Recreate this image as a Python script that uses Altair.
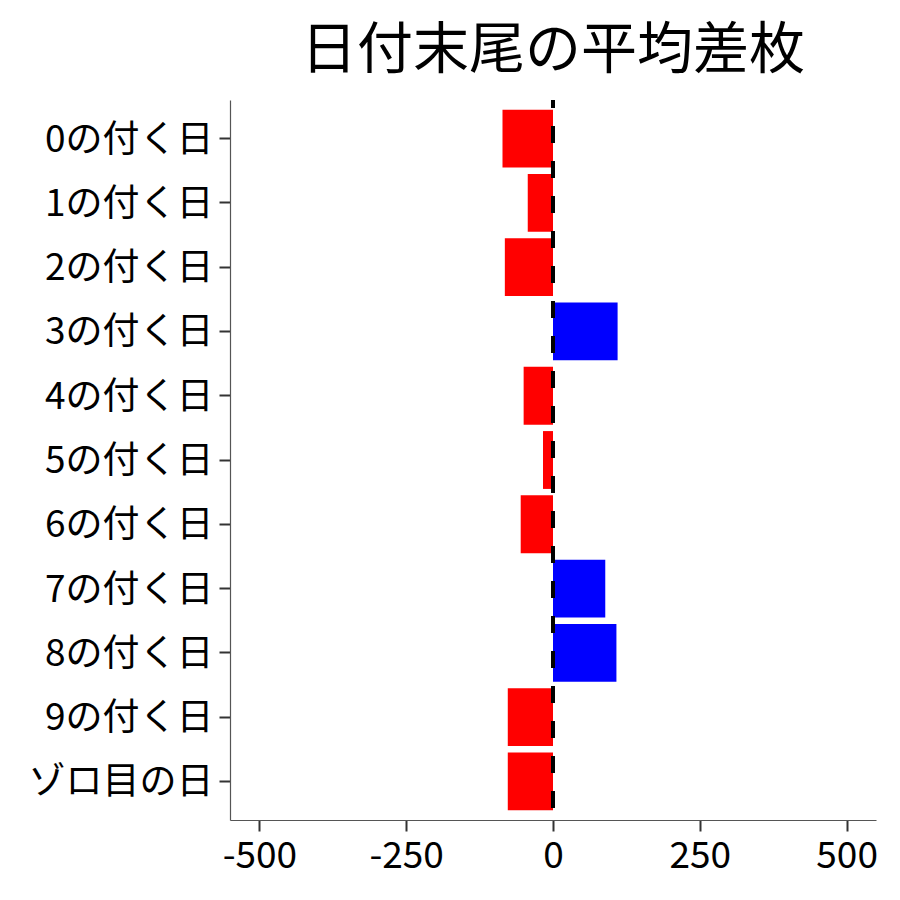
import altair as alt
import pandas as pd

categories = ["0の付く日", "1の付く日", "2の付く日", "3の付く日", "4の付く日",
              "5の付く日", "6の付く日", "7の付く日", "8の付く日", "9の付く日", "ゾロ目の日"]
values = [-86, -43, -82, 110, -50, -17, -55, 89, 108, -77, -77]
x_ticks = [-500, -250, 0, 250, 500]

df = pd.DataFrame({"cat": categories, "val": values})
df["sign"] = ["neg" if v < 0 else "pos" for v in values]

FONT = "Noto Sans CJK JP"
H = 720

bars = alt.Chart(df).mark_bar().encode(
    y=alt.Y("cat:N", sort=categories, title=None,
            scale=alt.Scale(paddingInner=0.1, paddingOuter=0.15),
            axis=alt.Axis(labelFontSize=37, labelColor="black", labelFont=FONT, labelLimit=400,
                          tickSize=11, tickColor="#333333", tickWidth=2, labelOffset=2,
                          labelPadding=6, domainColor="#555555", domainWidth=1.2)),
    x=alt.X("val:Q", title=None,
            scale=alt.Scale(domain=[-550, 550], nice=False, zero=False),
            axis=alt.Axis(values=x_ticks, labelFontSize=37, labelExpr="datum.value + ''",
                          labelColor="black", labelFont=FONT, grid=False,
                          tickSize=11, tickColor="#333333", tickWidth=2,
                          labelPadding=7, domainColor="#555555", domainWidth=1.2)),
    color=alt.Color("sign:N", scale=alt.Scale(domain=["neg", "pos"], range=["#FF0000", "#0000FF"]),
                    legend=None),
)

zero = pd.DataFrame({"x": [0]})
rule = alt.Chart(zero).mark_rule(color="black", strokeWidth=4, strokeDash=[17, 18],
                                 strokeDashOffset=9).encode(
    x="x:Q", y=alt.value(0), y2=alt.value(H)
)

chart = alt.layer(bars, rule).properties(
    width=646, height=H,
    title=alt.TitleParams("日付末尾の平均差枚", fontSize=56, font=FONT, fontWeight="normal",
                          color="black", anchor="middle", offset=18),
    autosize=alt.AutoSizeParams(type="none"),
    padding={"left": 222, "top": 92, "right": 16, "bottom": 72},
).configure(background="white").configure_view(stroke=None, strokeWidth=0)

chart.save("out.html", embed_options={"renderer": "svg", "actions": False})
